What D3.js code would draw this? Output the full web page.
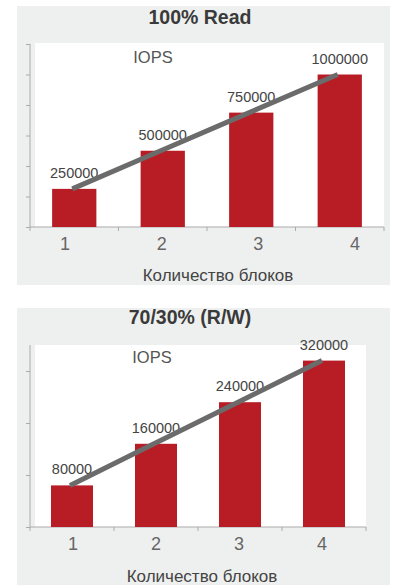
<!DOCTYPE html>
<html>
<head>
<meta charset="utf-8">
<script src="https://cdn.jsdelivr.net/npm/d3@7"></script>
<style>
  body { margin: 0; background: #fff; }
  svg { display: block; font-family: "Liberation Sans", Arial, sans-serif; }
</style>
</head>
<body>
<svg id="chart" width="393" height="585"></svg>
<script>
// data
const blocks = ["1", "2", "3", "4"];
const readIops = [250000, 500000, 750000, 1000000];
const mixedIops = [80000, 160000, 240000, 320000];
const readTicks = [0, 200000, 400000, 600000, 800000, 1000000, 1200000];
const mixedTicks = [0, 100000, 200000, 300000];
const titles = ["100% Read", "70/30% (R/W)"];
const yLabel = "IOPS";
const xLabel = "Количество блоков";

const svg = d3.select("svg#chart");

function drawPanel(opts) {
  const g = svg.append("g");

  g.append("rect")
    .attr("x", opts.bg[0]).attr("y", opts.bg[1])
    .attr("width", opts.bg[2]).attr("height", opts.bg[3])
    .attr("fill", "#eef0ef");

  g.append("rect")
    .attr("x", opts.plot[0]).attr("y", opts.plot[1])
    .attr("width", opts.plot[2]).attr("height", opts.plot[3])
    .attr("fill", "#fff");

  const x = d3.scaleBand().domain(blocks).range(opts.xRange)
    .paddingInner(0.5).paddingOuter(0.25);
  const y = d3.scaleLinear().domain(opts.yDomain).range(opts.yRange);
  const xl = d3.scalePoint().domain(blocks).range(opts.labelRange);

  // y axis
  const yAxis = g.append("g")
    .attr("transform", `translate(${opts.xRange[0]},0)`)
    .call(d3.axisLeft(y).tickValues(opts.ticks).tickSize(4).tickFormat(""));
  yAxis.select(".domain").attr("stroke", "#aaa").attr("d",
    `M0,${opts.yRange[0]}V${opts.yRange[1]}`);
  yAxis.selectAll(".tick line").attr("stroke", "#aaa");

  // x axis with ticks between bands
  const base = opts.yRange[0];
  const edges = blocks.map(d => x(d) - x.bandwidth() / 2).concat([opts.xRange[1]]);
  g.append("line")
    .attr("x1", opts.xRange[0]).attr("x2", opts.xRange[1])
    .attr("y1", base).attr("y2", base)
    .attr("stroke", "#aaa");
  g.selectAll(".xtick").data(edges).enter().append("line")
    .attr("x1", d => d).attr("x2", d => d)
    .attr("y1", base).attr("y2", base + 4)
    .attr("stroke", "#aaa");

  // bars
  g.selectAll(".bar").data(opts.values).enter().append("rect")
    .attr("x", (d, i) => x(blocks[i]))
    .attr("y", d => y(d))
    .attr("width", x.bandwidth())
    .attr("height", d => base - y(d))
    .attr("fill", "#b81c25");

  // value labels
  g.selectAll(".val").data(opts.values).enter().append("text")
    .attr("x", (d, i) => x(blocks[i]) + x.bandwidth() / 2)
    .attr("y", d => y(d) - 11)
    .attr("text-anchor", "middle")
    .attr("font-size", 14.5)
    .attr("fill", "#444")
    .text(d => d);

  // trend line
  const line = d3.line()
    .x((d, i) => x(blocks[i]) + x.bandwidth() / 2 - 2)
    .y(d => y(d));
  g.append("path")
    .datum(opts.values)
    .attr("d", line)
    .attr("fill", "none")
    .attr("stroke", "#6b6b6b")
    .attr("stroke-width", 5);

  // x tick labels
  g.selectAll(".xl").data(blocks).enter().append("text")
    .attr("x", d => xl(d))
    .attr("y", base + 23)
    .attr("text-anchor", "middle")
    .attr("font-size", 18)
    .attr("fill", "#666")
    .text(d => d);

  g.append("text")
    .attr("x", opts.xTitle[0]).attr("y", opts.xTitle[1])
    .attr("text-anchor", "middle")
    .attr("font-size", 17)
    .attr("fill", "#444")
    .text(xLabel);

  g.append("text")
    .attr("x", opts.iops[0]).attr("y", opts.iops[1])
    .attr("text-anchor", "middle")
    .attr("font-size", 16.5)
    .attr("fill", "#555")
    .text(yLabel);

  g.append("text")
    .attr("x", opts.title[0]).attr("y", opts.title[1])
    .attr("text-anchor", "middle")
    .attr("font-size", 19.5)
    .attr("font-weight", "bold")
    .attr("fill", "#3a3a3a")
    .text(opts.titleText);
}

drawPanel({
  bg: [17, 6, 373, 279],
  plot: [35, 43, 349, 184],
  xRange: [30, 384],
  yDomain: [0, 1200000],
  yRange: [227, 44],
  labelRange: [65, 355],
  ticks: readTicks,
  values: readIops,
  xTitle: [218, 281],
  iops: [153, 63],
  title: [200, 24],
  titleText: titles[0]
});

drawPanel({
  bg: [17, 308, 373, 277],
  plot: [35, 345, 331, 182],
  xRange: [30, 366],
  yDomain: [0, 350000],
  yRange: [527, 345],
  labelRange: [73, 322],
  ticks: mixedTicks,
  values: mixedIops,
  xTitle: [202, 582],
  iops: [152, 363],
  title: [190, 324],
  titleText: titles[1]
});
</script>
</body>
</html>
